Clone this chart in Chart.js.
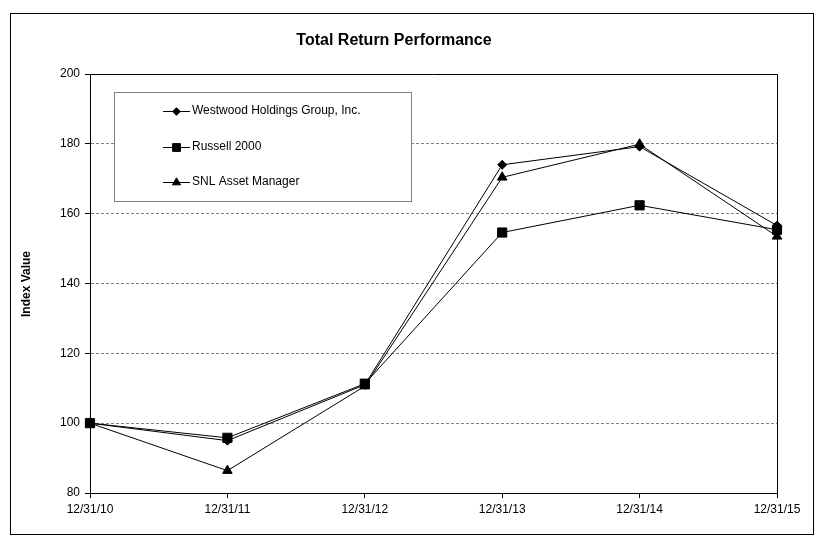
<!DOCTYPE html>
<html>
<head>
<meta charset="utf-8">
<script src="https://cdn.jsdelivr.net/npm/chart.js@4.4.0/dist/chart.umd.min.js"></script>
<style>
  html, body { margin: 0; padding: 0; background: #fff; }
  #wrap { width: 823px; height: 546px; position: relative; }
</style>
</head>
<body>
<div id="wrap"><canvas id="perfChart" width="823" height="546"></canvas></div>
<script>
// chart data
const periods = ['12/31/10', '12/31/11', '12/31/12', '12/31/13', '12/31/14', '12/31/15'];
const westwood = [100, 95.0, 111.0, 174.0, 179.2, 156.6];
const russell = [100, 95.8, 111.3, 154.6, 162.4, 155.4];
const snlAsset = [100, 86.4, 110.6, 170.4, 179.9, 153.5];
const seriesNames = ['Westwood Holdings Group, Inc.', 'Russell 2000', 'SNL Asset Manager'];
const yTicks = [80, 100, 120, 140, 160, 180, 200];

const FONT = '"Liberation Sans", Arial, sans-serif';

// frame, titles and the boxed legend
const decorations = {
    id: 'decorations',
    afterDraw(chart) {
        const ctx = chart.ctx;
        const area = chart.chartArea;
        ctx.save();

        // outer border
        ctx.strokeStyle = '#000';
        ctx.lineWidth = 1;
        ctx.setLineDash([]);
        ctx.strokeRect(10.5, 13.5, 803, 521);

        // top and right of the plot frame
        ctx.beginPath();
        ctx.moveTo(area.left, area.top + 0.5);
        ctx.lineTo(area.right + 0.5, area.top + 0.5);
        ctx.lineTo(area.right + 0.5, area.bottom);
        ctx.stroke();

        // title
        ctx.fillStyle = '#000';
        ctx.font = 'bold 16px ' + FONT;
        ctx.textAlign = 'center';
        ctx.textBaseline = 'middle';
        ctx.fillText('Total Return Performance', 394, 41);

        // y axis title
        ctx.save();
        ctx.translate(27, 284);
        ctx.rotate(-Math.PI / 2);
        ctx.font = 'bold 12px ' + FONT;
        ctx.fillText('Index Value', 0, 0);
        ctx.restore();

        // legend box
        ctx.fillStyle = '#fff';
        ctx.fillRect(114, 92, 297, 109);
        ctx.strokeStyle = '#808080';
        ctx.strokeRect(114.5, 92.5, 297, 109);

        const rows = [111, 147, 182];
        chart.data.datasets.forEach(function(ds, i) {
            const y = rows[i];
            ctx.strokeStyle = '#000';
            ctx.lineWidth = 1;
            ctx.beginPath();
            ctx.moveTo(163, y + 0.5);
            ctx.lineTo(190, y + 0.5);
            ctx.stroke();
            ctx.fillStyle = '#000';
            Chart.helpers.drawPoint(ctx, {
                pointStyle: ds.pointStyle,
                radius: ds.pointRadius * 0.85,
                rotation: 0,
                borderWidth: 1
            }, 176.5, y + 0.5);
            ctx.fillStyle = '#000';
            ctx.font = '12px ' + FONT;
            ctx.textAlign = 'left';
            ctx.textBaseline = 'middle';
            ctx.fillText(ds.label, 192, y);
        });

        ctx.restore();
    }
};

function makeSeries(label, values, style, radius) {
    return {
        label: label,
        data: values,
        borderColor: '#000',
        backgroundColor: '#000',
        borderWidth: 1,
        pointStyle: style,
        pointRadius: radius,
        pointBackgroundColor: '#000',
        pointBorderColor: '#000',
        pointBorderWidth: 1,
        tension: 0,
        fill: false
    };
}

document.addEventListener('DOMContentLoaded', function() {
    const ctx = document.getElementById('perfChart');
    new Chart(ctx, {
        type: 'line',
        data: {
            labels: periods,
            datasets: [
                makeSeries(seriesNames[0], westwood, 'rectRot', 4.5),
                makeSeries(seriesNames[1], russell, 'rect', 6.5),
                makeSeries(seriesNames[2], snlAsset, 'triangle', 5.5)
            ]
        },
        options: {
            responsive: false,
            animation: false,
            devicePixelRatio: 1,
            layout: {
                padding: { left: 0, top: 74, right: 46, bottom: 0 }
            },
            plugins: {
                legend: { display: false },
                title: { display: false },
                tooltip: { enabled: false }
            },
            scales: {
                x: {
                    type: 'category',
                    offset: false,
                    afterFit: function(scale) { scale.height = 53; },
                    grid: {
                        drawOnChartArea: false,
                        drawTicks: true,
                        tickLength: 5,
                        tickColor: '#000',
                        tickBorderDash: [1, 0],
                        tickWidth: 1
                    },
                    border: { display: true, color: '#000', width: 1 },
                    ticks: {
                        color: '#000',
                        font: { family: FONT, size: 12 },
                        padding: 4,
                        maxRotation: 0,
                        autoSkip: false
                    }
                },
                y: {
                    min: 80,
                    max: 200,
                    afterFit: function(scale) { scale.width = 90; },
                    afterBuildTicks: function(scale) {
                        scale.ticks = yTicks.map(function(v) { return { value: v }; });
                    },
                    grid: {
                        color: function(c) {
                            return (c.tick && (c.tick.value === 80 || c.tick.value === 200)) ? 'rgba(0,0,0,0)' : '#808080';
                        },
                        lineWidth: 1,
                        drawTicks: true,
                        tickLength: 5,
                        tickColor: '#000',
                        tickBorderDash: [1, 0],
                        tickWidth: 1
                    },
                    border: { display: true, color: '#000', width: 1, dash: [3, 2] },
                    ticks: {
                        color: '#000',
                        font: { family: FONT, size: 12 },
                        padding: 5
                    }
                }
            }
        },
        plugins: [decorations]
    });
});
</script>
</body>
</html>
